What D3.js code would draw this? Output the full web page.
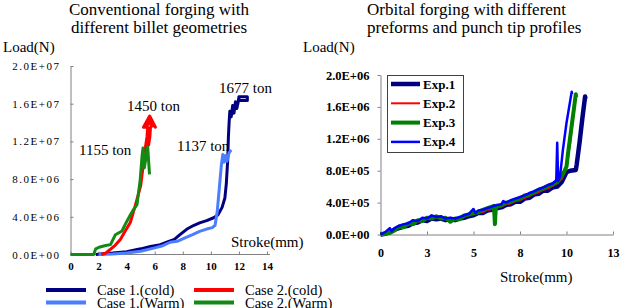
<!DOCTYPE html>
<html>
<head>
<meta charset="utf-8">
<script src="https://cdn.jsdelivr.net/npm/d3@7"></script>
<style>
  body { margin: 0; background: #fff; }
  .axis path, .axis line { stroke: #808080; }
</style>
</head>
<body>
<div id="chart"></div>
<script>
const FONT = "\"Liberation Serif\"";

// ---- left panel: conventional forging (stroke mm, load in 1E6 N) ----
const leftXTicks = [0, 2, 4, 6, 8, 10, 12, 14];
const leftYTicks = [0, 4e6, 8e6, 1.2e7, 1.6e7, 2e7];
const leftYLabels = ["0.0E+00", "4.0E+06", "8.0E+06", "1.2E+07", "1.6E+07", "2.0E+07"];

const case1Cold = [[1.8,0],[2.5,0.1],[3,0.15],[4,0.3],[5,0.6],[5.7,0.85],[6.4,1.05],[7,1.4],[7.4,1.6],
  [7.8,2.1],[8.3,2.7],[8.8,3.1],[9.2,3.35],[9.7,3.6],[10.2,3.9],[10.5,4.2],[10.8,5.0],[11.0,6.0],
  [11.1,7.5],[11.2,10.0],[11.25,12.5],[11.3,14.0],[11.35,15.2],[11.45,14.6],[11.55,15.8],[11.65,15.0],
  [11.75,16.2],[11.85,15.5],[11.95,16.2],[12.0,16.75],[12.6,16.75],[12.6,16.35],[12.0,16.35],[12.0,16.75]];
const case1Warm = [[2,0],[3,0.05],[4,0.15],[5,0.35],[6,0.7],[6.5,0.9],[7.1,1.3],[7.6,1.4],[8.2,1.8],
  [8.7,2.1],[9.2,2.45],[9.7,2.7],[10.1,2.85],[10.3,3.1],[10.45,4.5],[10.6,7.0],[10.75,9.5],[10.85,10.6],
  [10.95,9.8],[11.05,10.5],[11.15,9.9],[11.3,10.8],[11.45,11.1]];
const case2Cold = [[2.2,0],[2.5,0.15],[2.8,0.5],[3.2,1.0],[3.55,1.6],[3.9,2.5],[4.26,3.4],[4.6,5.1],
  [4.8,6.2],[5.0,7.3],[5.2,9.7],[5.35,11.5],[5.45,12.5],[5.5,13.5],[5.2,13.5],[5.64,14.7],[6.05,13.5],
  [5.64,14.2],[5.4,13.7],[5.64,13.9],[5.85,13.7],[5.7,13.5],[5.65,12.4],[5.55,11.5]];
const case2Warm = [[0,0],[1.65,0],[1.8,0.6],[2.1,0.8],[2.5,0.95],[2.85,1.05],[3.2,2.1],[3.67,2.5],
  [3.9,3.2],[4.26,4.2],[4.5,4.8],[4.74,5.3],[4.97,8.0],[5.1,10.5],[5.17,11.3],[5.26,9.2],[5.38,10.3],
  [5.5,11.4],[5.63,8.5]];

// ---- right panel: orbital forging ----
const rightXTicks = [0, 2.5, 5, 7.5, 10, 12.5];
const rightXLabels = ["0", "3", "5", "8", "10", "13"];
const rightYTicks = [0, 4e5, 8e5, 1.2e6, 1.6e6, 2e6];
const rightYLabels = ["0.0E+00", "4.0E+05", "8.0E+05", "1.2E+06", "1.6E+06", "2.0E+06"];

const exp1 = [[0,0],[0.25,0.01],[0.5,0.03],[0.75,0.06],[1,0.08],[1.25,0.10],[1.5,0.11],[1.75,0.14],[2,0.15],
  [2.25,0.18],[2.5,0.17],[2.75,0.20],[3,0.19],[3.25,0.20],[3.5,0.18],[3.75,0.19],[4,0.18],[4.25,0.20],
  [4.5,0.21],[4.75,0.23],[5,0.24],[5.25,0.27],[5.5,0.27],[5.75,0.30],[6,0.31],[6.25,0.33],[6.5,0.34],
  [6.75,0.37],[7,0.38],[7.25,0.41],[7.5,0.41],[7.75,0.45],[8,0.46],[8.25,0.50],[8.5,0.51],[8.75,0.55],
  [9,0.55],[9.25,0.59],[9.5,0.60],[9.75,0.66],[10.0,0.78],[10.2,0.80],[10.5,0.81],[10.55,0.88],
  [10.7,1.15],[10.85,1.45],[11.0,1.73],[11.02,1.70]];
const exp2 = [[0,0],[0.25,0.02],[0.5,0.04],[0.75,0.06],[1,0.09],[1.25,0.12],[1.5,0.12],[1.75,0.16],[2,0.16],
  [2.25,0.19],[2.5,0.19],[2.75,0.22],[3,0.21],[3.25,0.22],[3.5,0.19],[3.75,0.21],[4,0.19],[4.25,0.22],
  [4.5,0.22],[4.75,0.25],[5,0.25],[5.25,0.28],[5.5,0.28],[5.75,0.31],[6,0.32],[6.25,0.34],[6.5,0.35],
  [6.75,0.38],[7,0.39],[7.25,0.42],[7.5,0.43],[7.75,0.46],[8,0.48],[8.25,0.51],[8.5,0.53],[8.75,0.56],
  [9,0.58],[9.25,0.61],[9.5,0.64],[9.75,0.70],[9.9,0.78],[10.0,0.86],[10.2,1.15],[10.35,1.45],[10.45,1.70]];
const exp3 = [[0,0],[0.25,0.01],[0.5,0.02],[0.75,0.05],[1,0.10],[1.25,0.09],[1.5,0.14],[1.75,0.13],[2,0.18],
  [2.25,0.17],[2.5,0.21],[2.75,0.20],[3,0.23],[3.25,0.20],[3.5,0.21],[3.75,0.16],[4,0.20],[4.25,0.19],
  [4.5,0.24],[4.75,0.25],[5,0.27],[5.25,0.28],[5.5,0.31],[5.75,0.33],[6,0.35],[6.1,0.36],[6.15,0.13],
  [6.2,0.34],[6.5,0.37],[6.75,0.40],[7,0.41],[7.25,0.44],[7.5,0.45],[7.75,0.49],[8,0.50],[8.25,0.53],
  [8.5,0.56],[8.75,0.58],[9,0.61],[9.25,0.63],[9.5,0.66],[9.75,0.74],[9.9,0.80],[10.0,0.85],[10.1,1.05],
  [10.3,1.40],[10.5,1.76],[10.52,1.72]];
const exp4 = [[0,0],[0.25,0.03],[0.5,0.08],[0.6,0.04],[0.75,0.08],[1,0.11],[1.25,0.13],[1.5,0.14],[1.75,0.18],
  [2,0.17],[2.25,0.21],[2.5,0.20],[2.75,0.24],[3,0.22],[3.25,0.23],[3.5,0.20],[3.75,0.21],[4,0.20],
  [4.25,0.22],[4.5,0.24],[4.75,0.26],[5,0.32],[5.1,0.27],[5.25,0.30],[5.5,0.31],[5.75,0.33],[6,0.35],
  [6.25,0.37],[6.5,0.38],[6.6,0.42],[6.75,0.40],[7,0.43],[7.25,0.45],[7.5,0.47],[7.75,0.49],[8,0.52],
  [8.25,0.54],[8.5,0.57],[8.75,0.59],[9,0.62],[9.25,0.64],[9.45,0.68],[9.5,1.15],[9.55,0.67],[9.65,0.72],
  [9.8,1.05],[10.0,1.40],[10.28,1.79],[10.3,1.76]];

const leftSeries = [
  { name: "Case 1.(cold)", data: case1Cold, color: "#000080", w: 3 },
  { name: "Case 1.(Warm)", data: case1Warm, color: "#4a7dff", w: 3 },
  { name: "Case 2.(cold)", data: case2Cold, color: "#ff0000", w: 3 },
  { name: "Case 2.(Warm)", data: case2Warm, color: "#138a13", w: 3 }
];
const rightSeries = [
  { name: "Exp.1", data: exp1, color: "#000080", w: 4.5 },
  { name: "Exp.2", data: exp2, color: "#ff0000", w: 2 },
  { name: "Exp.3", data: exp3, color: "#008000", w: 4 },
  { name: "Exp.4", data: exp4, color: "#0000ff", w: 2.5 }
];

const svg = d3.select("#chart").append("svg").attr("width", 629).attr("height", 308)
  .style("display", "block");

function styleText(sel, size, bold) {
  sel.attr("font-family", "Liberation Serif").style("font-family", FONT)
    .style("font-size", size + "px").style("font-weight", bold ? "bold" : "normal").attr("fill", "#000");
}

function txt(x, y, t, size, opts = {}) {
  const s = svg.append("text").attr("x", x).attr("y", y)
    .attr("text-anchor", opts.anchor || "start").text(t);
  styleText(s, size, opts.bold);
  return s;
}

// ---------- left chart ----------
const xL = d3.scaleLinear().domain([0, 14]).range([70.5, 267]);
const yL = d3.scaleLinear().domain([0, 2e7]).range([254.5, 66]);

const gxL = svg.append("g").attr("class", "axis").attr("transform", "translate(0,254.5)")
  .call(d3.axisBottom(xL).tickValues(leftXTicks).tickSize(-3).tickSizeOuter(0).tickPadding(8));
gxL.attr("font-family", null).attr("font-size", null);
gxL.select("path").attr("d", "M70.5,0H270");
styleText(gxL.selectAll("text"), 11, true);

const gyL = svg.append("g").attr("class", "axis").attr("transform", "translate(70.5,0)")
  .call(d3.axisLeft(yL).tickValues(leftYTicks).tickFormat((d, i) => leftYLabels[i])
    .tickSize(-3).tickSizeOuter(0).tickPadding(10));
gyL.attr("font-family", null).attr("font-size", null);
styleText(gyL.selectAll("text"), 11, false);
gyL.selectAll("text").style("letter-spacing", "1.5px");

const lineL = d3.line().x(d => xL(d[0])).y(d => yL(d[1] * 1e6));
leftSeries.forEach(s => {
  svg.append("path").datum(s.data).attr("fill", "none").attr("stroke", s.color)
    .attr("stroke-width", s.w).attr("stroke-linejoin", "round").attr("d", lineL);
});

// titles and labels
txt(159, 15, "Conventional forging with", 17, { anchor: "middle" });
txt(159, 33, "different billet geometries", 17, { anchor: "middle" });
txt(3, 52, "Load(N)", 15);
txt(231, 247, "Stroke(mm)", 15);

const tonLabels = [
  { t: "1677 ton", x: 219, y: 93 },
  { t: "1450 ton", x: 127, y: 111 },
  { t: "1155 ton", x: 79, y: 155 },
  { t: "1137 ton", x: 177, y: 151 }
];
tonLabels.forEach(l => txt(l.x, l.y, l.t, 15));

// left legend
const legL = [
  { s: leftSeries[0], x: 46, y: 290 },
  { s: leftSeries[2], x: 194, y: 290 },
  { s: leftSeries[1], x: 46, y: 302.5 },
  { s: leftSeries[3], x: 194, y: 302.5 }
];
legL.forEach(l => {
  svg.append("line").attr("x1", l.x).attr("x2", l.x + 40).attr("y1", l.y).attr("y2", l.y)
    .attr("stroke", l.s.color).attr("stroke-width", 4);
  txt(l.x + 51, l.y + 5, l.s.name, 14.5);
});

// ---------- right chart ----------
const xR = d3.scaleLinear().domain([0, 12.5]).range([380.5, 613]);
const yR = d3.scaleLinear().domain([0, 2e6]).range([234.5, 75]);

const gxR = svg.append("g").attr("class", "axis").attr("transform", "translate(0,234.5)")
  .call(d3.axisBottom(xR).tickValues(rightXTicks).tickFormat((d, i) => rightXLabels[i])
    .tickSize(-3).tickSizeOuter(0).tickPadding(14));
gxR.attr("font-family", null).attr("font-size", null);
styleText(gxR.selectAll("text"), 12, true);

const gyR = svg.append("g").attr("class", "axis").attr("transform", "translate(380.5,0)")
  .call(d3.axisLeft(yR).tickValues(rightYTicks).tickFormat((d, i) => rightYLabels[i])
    .tickSize(3).tickSizeOuter(0).tickPadding(8));
gyR.attr("font-family", null).attr("font-size", null);
styleText(gyR.selectAll("text"), 12.5, true);

const lineR = d3.line().x(d => xR(d[0])).y(d => yR(d[1] * 1e6));
rightSeries.forEach(s => {
  svg.append("path").datum(s.data).attr("fill", "none").attr("stroke", s.color)
    .attr("stroke-width", s.w).attr("stroke-linejoin", "round").attr("d", lineR);
});

txt(367, 15, "Orbital forging with different", 17);
txt(367, 33, "preforms and punch tip profiles", 17);
txt(303, 52, "Load(N)", 15);
txt(500, 282, "Stroke(mm)", 15);

// right legend
svg.append("rect").attr("x", 387.5).attr("y", 75.5).attr("width", 76).attr("height", 77)
  .attr("fill", "#fff").attr("stroke", "#404040").attr("stroke-width", 1);
rightSeries.forEach((s, i) => {
  const y = 84 + i * 19.3;
  svg.append("line").attr("x1", 391).attr("x2", 420).attr("y1", y).attr("y2", y)
    .attr("stroke", s.color).attr("stroke-width", s.w);
  txt(423, y + 4.5, s.name, 13, { bold: true });
});
</script>
</body>
</html>
